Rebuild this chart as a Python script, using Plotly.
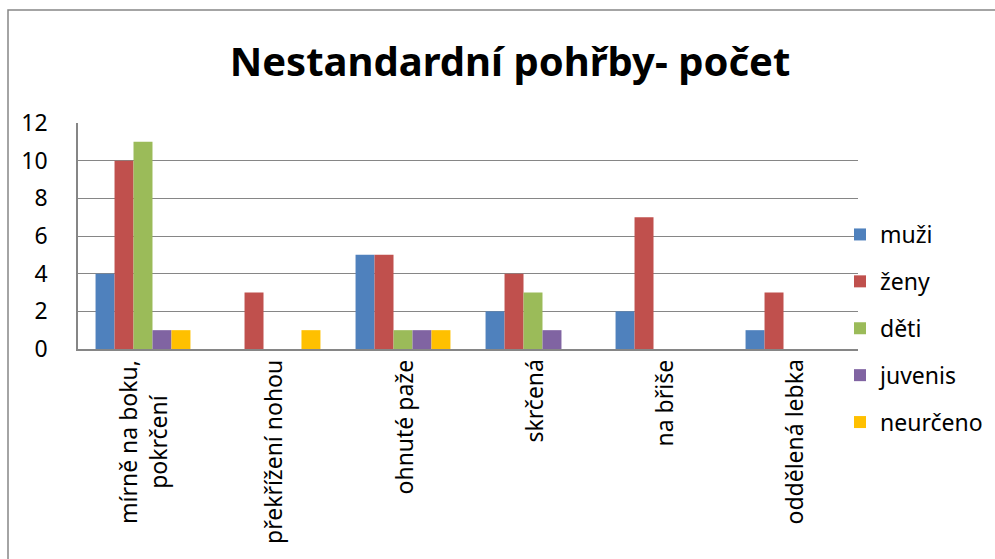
import plotly.graph_objects as go

categories = ["mírně na boku,<br>pokrčení", "překřížení nohou", "ohnuté paže",
              "skrčená", "na břiše", "oddělená lebka"]
series_names = ["muži", "ženy", "děti", "juvenis", "neurčeno"]
muzi = [4, 0, 5, 2, 2, 1]
zeny = [10, 3, 5, 4, 7, 3]
deti = [11, 0, 1, 3, 0, 0]
juvenis = [1, 0, 1, 1, 0, 0]
neurceno = [1, 1, 1, 0, 0, 0]
y_ticks = [0, 2, 4, 6, 8, 10, 12]

colors = ["#4F81BD", "#C0504D", "#9BBB59", "#8064A2", "#FFC000"]
values = [muzi, zeny, deti, juvenis, neurceno]

FONT = "Noto Sans"
fig = go.Figure()
for name, vals, col in zip(series_names, values, colors):
    fig.add_trace(go.Bar(
        x=list(range(len(categories))), y=vals, name=name,
        marker=dict(color=col, line=dict(width=0)),
        legendgroup=name,
    ))

L, R, T, B = 78, 137, 123, 210
W, H = 995, 559
pw = W - L - R
ph = H - T - B

fig.update_layout(
    width=W, height=H,
    margin=dict(l=L, r=R, t=T, b=B, autoexpand=False),
    paper_bgcolor="white", plot_bgcolor="white",
    barmode="group", bargap=0.27, bargroupgap=0,
    font=dict(family=FONT, size=23, color="black"),
    title=dict(text="<b>Nestandardní pohřby- počet</b>", x=510 / W, xanchor="center",
               y=1 - 62 / H, yanchor="middle",
               font=dict(family=FONT, size=40, color="black")),
    legend=dict(x=(840 - L) / pw, xanchor="left", y=(349 - 213) / ph, yanchor="top",
                font=dict(family=FONT, size=23), tracegroupgap=14, maxheight=700,
                traceorder="grouped", itemwidth=30, bgcolor="rgba(0,0,0,0)"),
    showlegend=True,
)
fig.update_xaxes(
    tickmode="array", tickvals=list(range(len(categories))), ticktext=[""] * len(categories),
    range=[-0.5, len(categories) - 0.5], automargin=False,
    showline=True, linecolor="#868686", linewidth=1.5,
    showgrid=False, ticks="",
)
fig.update_yaxes(
    range=[0, 12], tickvals=y_ticks, showline=True, linecolor="#868686", linewidth=1.5,
    showgrid=True, gridcolor="#868686", gridwidth=1.2, zeroline=False, automargin=False,
    ticks="", ticklabelstandoff=24, tickfont=dict(family=FONT, size=23),
)
# category labels (rotated, multi-line centred)
for i, cat in enumerate(categories):
    fig.add_annotation(x=i, xref="x", y=0, yref="paper", yanchor="top", xanchor="center",
                       yshift=-9, text=cat, textangle=-90, showarrow=False, align="center",
                       font=dict(family=FONT, size=23, color="black"))
# outer chart frame
fig.add_shape(type="rect", xref="paper", yref="paper",
              x0=(8 - L) / pw, x1=(W + 20 - L) / pw,
              y0=-(B + 50) / ph, y1=(H - 10 - B) / ph,
              line=dict(color="#868686", width=1.5), fillcolor="rgba(0,0,0,0)", layer="below")

fig.write_html("out.html", config={"displayModeBar": False},
               post_script="document.body.style.margin='0';document.body.style.overflow='hidden';")
